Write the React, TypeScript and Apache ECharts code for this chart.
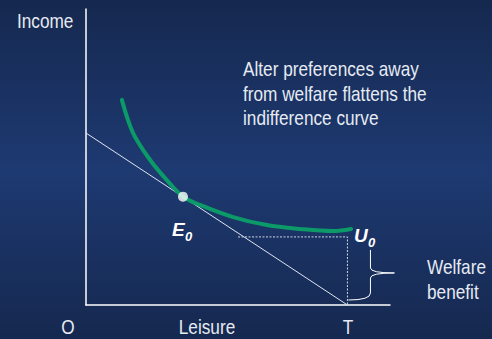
import React, { useEffect, useRef } from "react";
import * as echarts from "echarts";

// Budget line: full income at zero leisure down to T (all leisure)
const T = 86;
const budgetLine = [
  [0, 58.1],
  [T, 0],
];

// Indifference curve U0 (flattened by altered preferences)
const indifferenceCurve = [
  [11.8, 69.3],
  [15.5, 58.1],
  [21.1, 49.0],
  [26.6, 42.2],
  [31.9, 36.6],
  [37.5, 33.8],
  [48.4, 29.7],
  [59.5, 27.0],
  [70.4, 25.7],
  [81.3, 25.0],
  [87.2, 25.7],
];

// Tangency point E0
const equilibrium = [[31.9, 36.6]];

// Welfare benefit level at T
const welfareBenefit = 23;
const benefitGuide = [
  [50, welfareBenefit],
  [T, welfareBenefit],
  [T, 0],
];

const SANS = "'Liberation Sans', Arial, sans-serif";
const TEXT = "#e6eaf2";
const NARROW_SCALE = 0.82;

// Condensed caption text: regular sans squeezed horizontally
function narrowText(
  text: string,
  x: number,
  y: number,
  align: "left" | "center" = "left",
  verticalAlign: "top" | "middle" = "middle",
  lineHeight = 24.5
) {
  return {
    type: "text",
    x,
    y,
    scaleX: NARROW_SCALE,
    style: {
      text,
      x: 0,
      y: 0,
      align,
      verticalAlign,
      lineHeight,
      font: `21px ${SANS}`,
      fill: TEXT,
    },
  };
}

export default function App() {
  const ref = useRef<HTMLDivElement>(null);

  useEffect(() => {
    if (!ref.current) return;
    const chart = echarts.init(ref.current, null, { renderer: "svg" });

    const axisStyle = {
      show: true,
      lineStyle: { color: "#ffffff", width: 1.5 },
    };

    chart.setOption({
      animation: false,
      backgroundColor: new echarts.graphic.LinearGradient(0, 0, 0, 1, [
        { offset: 0, color: "#15284f" },
        { offset: 0.5, color: "#1e3a72" },
        { offset: 1, color: "#15284f" },
      ]),
      grid: { left: 86, right: 102, top: 9, bottom: 34 },
      xAxis: {
        type: "value",
        min: 0,
        max: 100,
        axisLine: axisStyle,
        axisTick: { show: false },
        axisLabel: { show: false },
        splitLine: { show: false },
      },
      yAxis: {
        type: "value",
        min: 0,
        max: 100,
        axisLine: axisStyle,
        axisTick: { show: false },
        axisLabel: { show: false },
        splitLine: { show: false },
      },
      series: [
        {
          type: "line",
          data: budgetLine,
          symbol: "none",
          lineStyle: { color: "#dfe5f0", width: 1 },
          z: 2,
        },
        {
          type: "line",
          data: benefitGuide,
          symbol: "none",
          lineStyle: { color: "#cfd6e4", width: 1, type: [2, 1.5] },
          z: 2,
        },
        {
          type: "line",
          data: indifferenceCurve,
          symbol: "none",
          smooth: 0.35,
          lineStyle: { color: "#0b9a68", width: 4, cap: "round" },
          z: 3,
        },
        {
          type: "scatter",
          data: equilibrium,
          symbol: "circle",
          symbolSize: 10,
          itemStyle: { color: "#ffffff" },
          z: 4,
        },
        {
          // Brace marking the welfare benefit, drawn beside the vertical at T
          type: "custom",
          data: [[T, welfareBenefit, 0]],
          z: 4,
          renderItem: (params: any, api: any) => {
            const top = api.coord([api.value(0), api.value(1)]);
            const bot = api.coord([api.value(0), api.value(2)]);
            const x0 = top[0] + 23;
            const y0 = top[1] + 13;
            const y1 = bot[1] - 5;
            const mid = (y0 + y1) / 2 - 2;
            const d =
              `M ${x0} ${y0} L ${x0} ${mid - 5} ` +
              `Q ${x0} ${mid} ${x0 + 24} ${mid} ` +
              `Q ${x0} ${mid} ${x0} ${mid + 5} ` +
              `L ${x0} ${y1 - 7} ` +
              `Q ${x0} ${y1} ${top[0] + 1} ${y1}`;
            return {
              type: "path",
              shape: { pathData: d },
              style: { stroke: "#ffffff", fill: null, lineWidth: 1 },
            };
          },
        },
      ],
      graphic: [
        narrowText("Income", 17, 21),
        narrowText(
          "Alter preferences away\nfrom welfare flattens the\nindifference curve",
          243,
          57,
          "left",
          "top"
        ),
        narrowText("O", 68, 327, "center"),
        narrowText("Leisure", 207, 327, "center"),
        narrowText("T", 348, 327, "center"),
        narrowText("Welfare\nbenefit", 427, 254, "left", "top", 25),
        {
          type: "text",
          style: { text: "E", x: 172, y: 229, verticalAlign: "middle", font: `italic bold 19px ${SANS}`, fill: "#ffffff" },
        },
        {
          type: "text",
          style: { text: "0", x: 185, y: 236, verticalAlign: "middle", font: `italic bold 13px ${SANS}`, fill: "#ffffff" },
        },
        {
          type: "text",
          style: { text: "U", x: 354, y: 235, verticalAlign: "middle", font: `italic bold 19px ${SANS}`, fill: "#ffffff" },
        },
        {
          type: "text",
          style: { text: "0", x: 368, y: 242, verticalAlign: "middle", font: `italic bold 13px ${SANS}`, fill: "#ffffff" },
        },
      ],
    });

    return () => chart.dispose();
  }, []);

  return (
    <div
      ref={ref}
      style={{ position: "fixed", left: 0, top: 0, width: 492, height: 339 }}
    />
  );
}
